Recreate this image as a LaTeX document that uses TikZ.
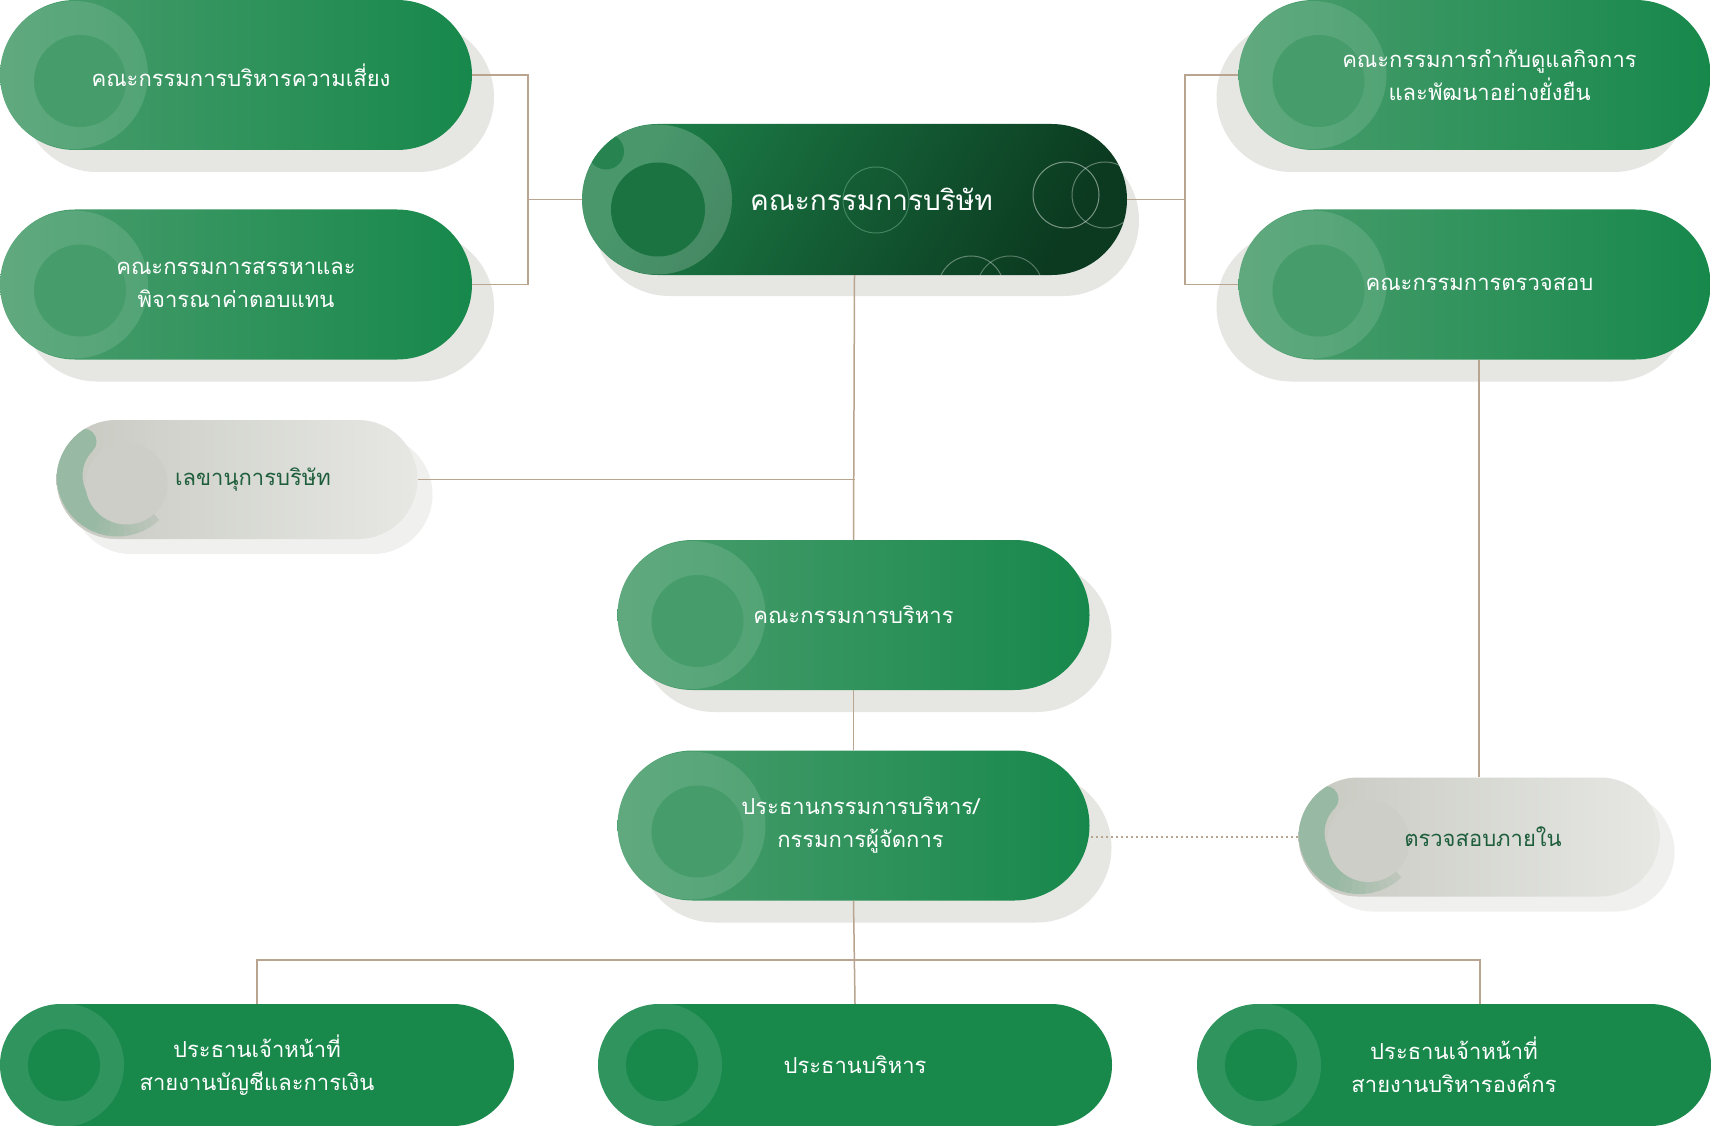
\documentclass[tikz,border=0pt]{standalone}
\usepackage{fontspec}
\newfontfamily\thai[Script=Thai]{Loma}
\usetikzlibrary{shapes.misc,shadows,calc}
\definecolor{gL}{HTML}{4B9E6E}
\definecolor{gR}{HTML}{17884B}
\definecolor{gBase}{HTML}{18884B}
\definecolor{dL}{HTML}{1C7D47}
\definecolor{dR}{HTML}{0B3A20}
\definecolor{shc}{HTML}{E6E7E3}
\definecolor{shg}{HTML}{F0F0EE}
\definecolor{greyL}{HTML}{C7C9C1}
\definecolor{greyR}{HTML}{E7E8E4}
\definecolor{greyT}{HTML}{1E5E3C}
\definecolor{cresc}{HTML}{98B9A3}
\definecolor{linec}{HTML}{B8A48F}
\tikzset{
  pill/.style={rounded rectangle, inner sep=0pt, align=center, text=white,
    font=\thai\fontsize{22}{33}\selectfont},
  gbox/.style={pill, minimum width=472pt, minimum height=150pt,
    left color=gL, right color=gR,
    general shadow={fill=shc, shadow xshift=#1, shadow yshift=-22pt},
    path picture={
      \fill[white,opacity=.12] ([xshift=74pt]path picture bounding box.west) circle (74pt);
      \fill[gL!90!gR] ([xshift=80pt,yshift=-6pt]path picture bounding box.west) circle (46pt);
    }},
  gbox/.default=22pt,
  boardbox/.style={pill, minimum width=545pt, minimum height=151pt,
    left color=dL, right color=dR, shading angle=60,
    font=\thai\fontsize{28}{36}\selectfont,
    general shadow={fill=shc, shadow xshift=12pt, shadow yshift=-21pt},
    path picture={
      \fill[white,opacity=.2] ([xshift=75pt]path picture bounding box.west) circle (75pt);
      \fill[dL!92!black] ([xshift=76pt,yshift=-10pt]path picture bounding box.west) circle (47pt);
      \fill[dL!95!white] ([xshift=24pt,yshift=48pt]path picture bounding box.west) circle (18pt);
      \draw[line width=1pt,color=dL!70!white,opacity=.6] ([shift={(21.5pt,-0.5pt)}]path picture bounding box.center) circle (33pt);
      \draw[line width=1pt,color=white,opacity=.45] ([shift={(211.5pt,4.5pt)}]path picture bounding box.center) circle (33pt);
      \draw[line width=1pt,color=white,opacity=.35] ([shift={(250.5pt,4.5pt)}]path picture bounding box.center) circle (33pt);
      \draw[line width=1pt,color=white,opacity=.35] ([shift={(116.5pt,-89.5pt)}]path picture bounding box.center) circle (33pt);
      \draw[line width=1pt,color=white,opacity=.3] ([shift={(155.5pt,-89.5pt)}]path picture bounding box.center) circle (33pt);
    }},
  greybox/.style={pill, minimum width=361pt, minimum height=119pt,
    left color=greyL, right color=greyR, text=greyT,
    general shadow={fill=shg, shadow xshift=15pt, shadow yshift=-15pt},
    path picture={
      \coordinate (cc) at ([xshift=61pt,yshift=4pt]path picture bounding box.west);
      \draw[line width=26pt,color=cresc,line cap=round] ($(cc)+(135:48pt)$) arc[start angle=135,end angle=240,radius=48pt];
      \foreach \i in {0,...,9}{
        \pgfmathsetmacro{\mix}{100-\i*9}
        \draw[line width=26pt,color=cresc!\mix!greyL] ($(cc)+({240+\i*7.3}:48pt)$) arc[start angle={240+\i*7.3},end angle={248+\i*7.3},radius=48pt];
      }
      \fill[greyL!90!white] ([xshift=70pt,yshift=-4pt]path picture bounding box.west) circle (41pt);
    }},
  bbox/.style={pill, minimum width=514pt, minimum height=122pt, fill=gBase,
    path picture={
      \fill[white,opacity=.1] ([xshift=62pt]path picture bounding box.west) circle (62pt);
      \fill[gBase] ([xshift=64pt]path picture bounding box.west) circle (36pt);
    }},
  conn/.style={draw=linec, line width=1.5pt},
}
\begin{document}
\begin{tikzpicture}[x=1pt,y=-1pt]
\useasboundingbox (0,0) rectangle (1711,1126);
\fill[white] (0,0) rectangle (1711,1126);

% nodes
\node[gbox] (tl) at (236,75) {\hspace*{10pt}คณะกรรมการบริหารความเสี่ยง};
\node[gbox] (l2) at (236,284.5) {คณะกรรมการสรรหาและ\\พิจารณาค่าตอบแทน};
\node[gbox=-22pt] (rt1) at (1474.5,75) {\hspace*{30pt}คณะกรรมการกำกับดูแลกิจการ\\\hspace*{30pt}และพัฒนาอย่างยั่งยืน};
\node[gbox=-22pt] (rt2) at (1474.5,284.5) {\hspace*{10pt}คณะกรรมการตรวจสอบ};
\node[boardbox] (board) at (854.5,199.5) {\hspace*{34pt}คณะกรรมการบริษัท};
\node[greybox] (sec) at (237,479.5) {\hspace*{32pt}เลขานุการบริษัท};
\node[gbox] (exec) at (853.5,615) {คณะกรรมการบริหาร};
\node[gbox] (chair) at (853.5,825.5) {\hspace*{14pt}ประธานกรรมการบริหาร/\\\hspace*{14pt}กรรมการผู้จัดการ};
\node[greybox] (aud) at (1479,837) {\hspace*{8pt}ตรวจสอบภายใน};
\node[bbox] (cfo) at (257,1065) {ประธานเจ้าหน้าที่\\สายงานบัญชีและการเงิน};
\node[bbox] (ceo) at (855,1065) {ประธานบริหาร};
\node[bbox] (cao) at (1454,1065) {ประธานเจ้าหน้าที่\\สายงานบริหารองค์กร};

% junction coordinates
\coordinate (lj) at (528,199.5);
\coordinate (rj) at (1185,199.5);
\coordinate (bus) at (855,960);
\coordinate (cr) at (1480,1004);

% connectors
\draw[conn] (tl.east) -| (lj) |- (l2.east);
\draw[conn] (lj) -- (board.west);
\draw[conn] (rt1.west) -| (rj) |- (rt2.west);
\draw[conn] (rj) -- (board.east);
\draw[conn] (board.south) -- (exec.north);
\draw[conn] (sec.east) -- (sec.east -| board.south);
\draw[conn] (exec.south) -- (chair.north);
\draw[conn] (aud.north) -- (aud.north |- rt2.south);
\draw[draw=linec, line width=1.3pt, dash pattern=on 2pt off 3pt] (aud.west) -- (aud.west -| chair.east);
\draw[conn] (chair.south) -- (ceo.north);
\draw[conn] (cfo.north) |- (bus) -| (cr);
\end{tikzpicture}
\end{document}
